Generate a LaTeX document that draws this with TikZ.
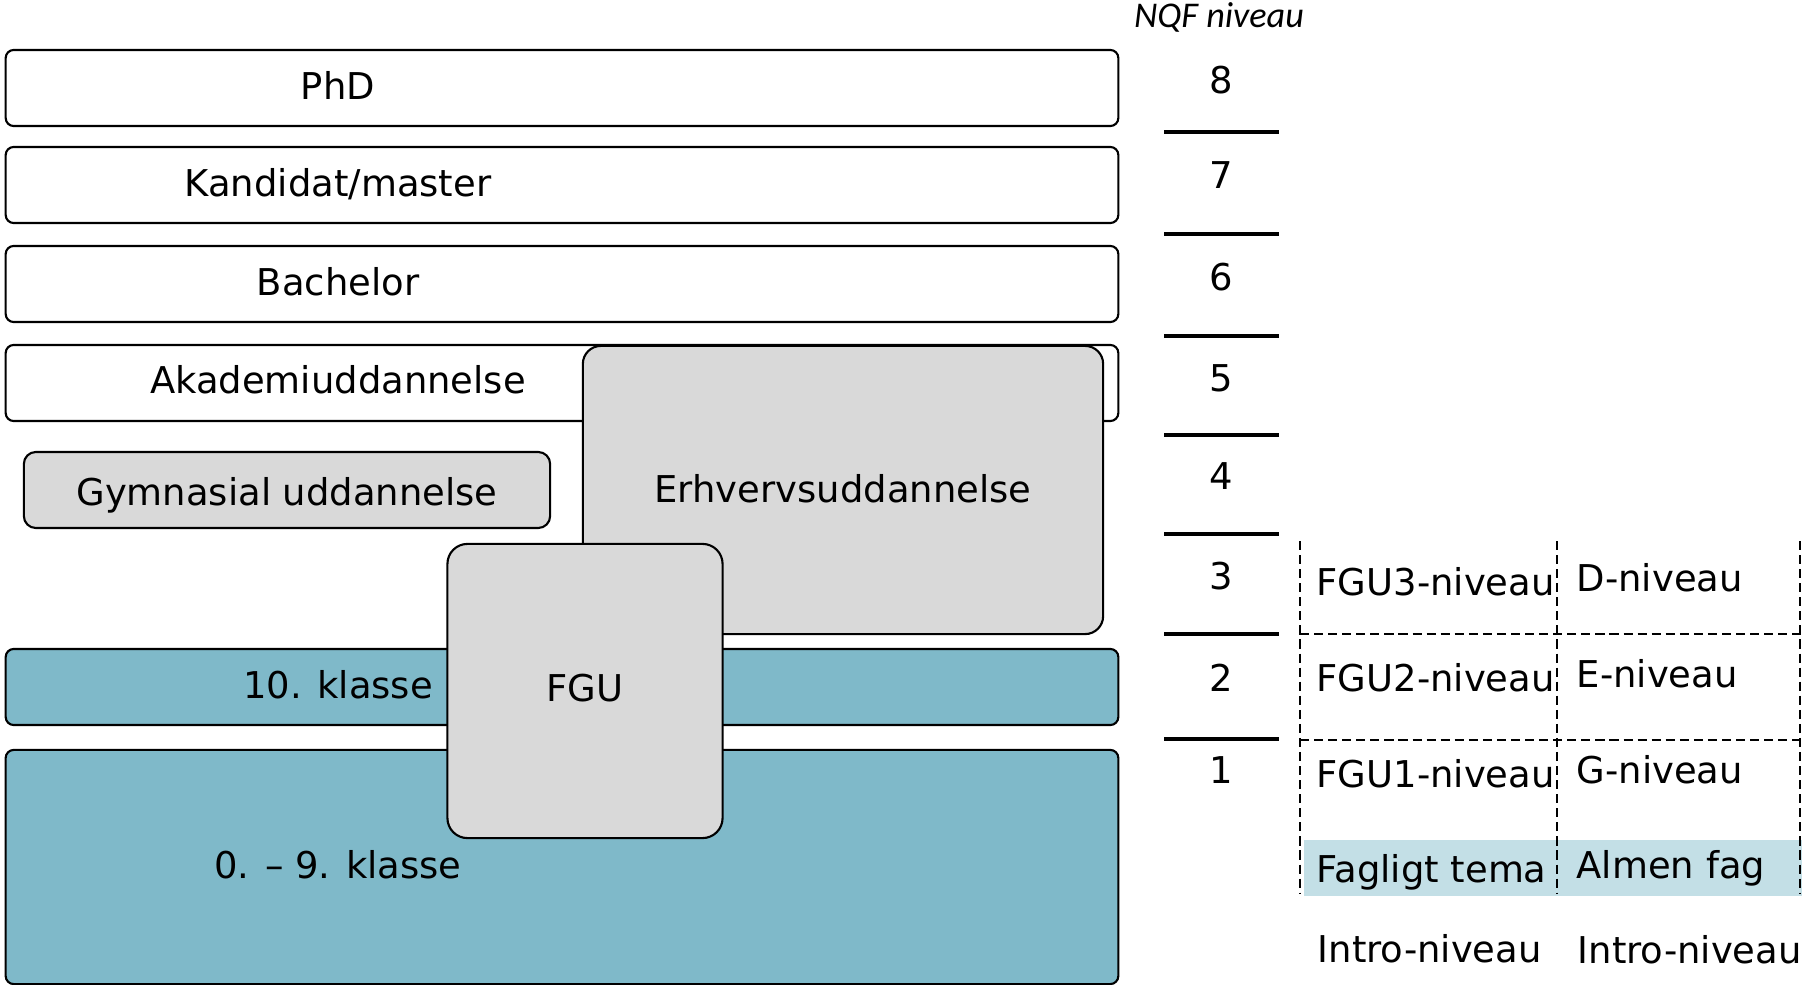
\documentclass[tikz,border=0pt]{standalone}
\usepackage{fontspec}
\setmainfont{DejaVu Sans}
\newfontfamily\nqffont{Carlito}
\definecolor{skolebla}{HTML}{7FB9C9}
\definecolor{graafyld}{HTML}{D9D9D9}
\definecolor{lysbla}{HTML}{C3DFE6}
\tikzset{
  bar/.style={draw, line width=0.6pt, rounded corners=0.8mm, inner sep=0pt, outer sep=0pt,
    minimum width=11.12cm, minimum height=0.76cm},
  lbl/.style={anchor=base, inner sep=0pt},
  kol/.style={anchor=base west, inner sep=0pt},
  gitter/.style={line width=0.5pt, dash pattern=on 2.6pt off 1.4pt},
}
\begin{document}
\begin{tikzpicture}[x=0.01cm, y=-0.01cm, font=\fontsize{10.5}{12}\selectfont]
        \useasboundingbox (0,0) rectangle (1811,985);

        % uddannelser
        \node[bar] (phd) at (562,88) {};
        \node[bar] (master) at (562,185) {};
        \node[bar] (bachelor) at (562,284) {};
        \node[bar] (akademi) at (562,383) {};
        \node[bar, fill=skolebla] (tiende) at (562,687) {};
        \node[bar, fill=skolebla, minimum height=2.34cm] (grund) at (562,867) {};
        \node[bar, fill=graafyld, rounded corners=1.2mm, minimum width=5.26cm] (gym) at (287,490) {};
        \node[bar, fill=graafyld, rounded corners=1.8mm, minimum width=5.2cm, minimum height=2.88cm] (erhverv) at (843,490) {};
        \node[bar, fill=graafyld, rounded corners=2mm, minimum width=2.75cm, minimum height=2.94cm] (fgu) at (585,691) {};

        \node[lbl] (phdtxt) at (338,100) {PhD};
        \node[lbl] (mastertxt) at (338,197) {Kandidat/master};
        \node[lbl] (bachelortxt) at (338,296) {Bachelor};
        \node[lbl] (akademitxt) at (338,394) {Akademiuddannelse};
        \node[lbl] (gymtxt) at (287,505) {Gymnasial uddannelse};
        \node[lbl] (erhvervtxt) at (843,502) {Erhvervsuddannelse};
        \node[lbl] (tiendetxt) at (338,698) {10. klasse};
        \node[lbl] (fgutxt) at (585,702) {FGU};
        \node[lbl] (grundtxt) at (338,878) {0. – 9. klasse};

        % NQF niveauer
        \node[lbl, font=\nqffont\itshape\fontsize{10.3}{12}\selectfont] (nqf) at (1219,28) {NQF niveau};
        \foreach \n/\y in {8/94,7/189,6/291,5/392,4/490,3/590,2/691,1/783}
            \node[lbl] (niv\n) at (1221,\y) {\n};
        \foreach \y in {132,234,336,435,534,634,739}
            \path[draw, line width=1pt] (1164,\y) -- (1279,\y);

        % FGU-niveauer
        \fill[lysbla] (1304,840) rectangle (1802,896);
        \foreach \x in {1300,1557,1800}
            \path[draw, gitter] (\x,541) -- (\x,893);
        \foreach \y in {634,740}
            \path[draw, gitter] (1300,\y) -- (1800,\y);

        \node[kol] (fgu3) at (1316,595) {FGU3-niveau};
        \node[kol] (dniv) at (1576,591) {D-niveau};
        \node[kol] (fgu2) at (1316,691) {FGU2-niveau};
        \node[kol] (eniv) at (1576,687) {E-niveau};
        \node[kol] (fgu1) at (1316,787) {FGU1-niveau};
        \node[kol] (gniv) at (1576,783) {G-niveau};
        \node[kol] (tema) at (1316,882) {Fagligt tema};
        \node[kol] (almen) at (1576,878) {Almen fag};
        \node[kol] (intro1) at (1317,962) {Intro-niveau};
        \node[kol] (intro2) at (1577,963) {Intro-niveau};
    \end{tikzpicture}
\end{document}
